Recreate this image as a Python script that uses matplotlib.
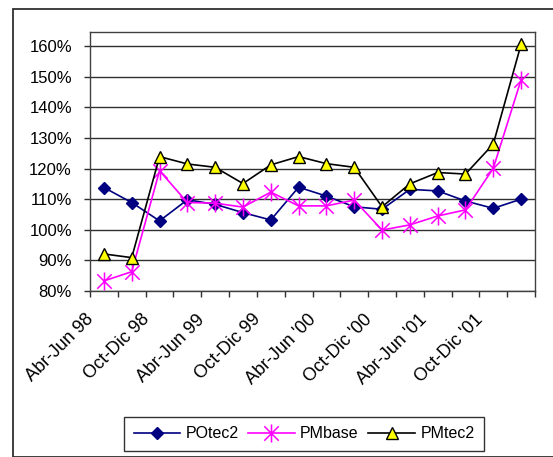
import matplotlib
matplotlib.use("Agg")
import matplotlib.pyplot as plt
import matplotlib.transforms as mtransforms
from matplotlib.path import Path
from matplotlib.patches import Rectangle

plt.rcParams['font.family'] = ['Liberation Sans', 'DejaVu Sans']

# Trimestres (solo se rotulan los alternos)
trimestres = ["Abr-Jun 98", "Jul-Sep 98", "Oct-Dic 98", "Ene-Mar 99",
              "Abr-Jun 99", "Jul-Sep 99", "Oct-Dic 99", "Ene-Mar '00",
              "Abr-Jun '00", "Jul-Sep '00", "Oct-Dic '00", "Ene-Mar '01",
              "Abr-Jun '01", "Jul-Sep '01", "Oct-Dic '01", "Ene-Mar '02"]
rotulos = trimestres[::2]

# Series en porcentaje
potec2 = [113.8, 108.9, 102.9, 109.8, 108.3, 105.6, 103.2, 113.9,
          111.0, 107.5, 106.7, 113.2, 112.7, 109.4, 107.0, 110.0]
pmbase = [83.3, 86.3, 119.3, 108.9, 108.7, 107.4, 112.3, 107.8,
          107.8, 109.7, 99.9, 101.6, 104.5, 106.5, 120.1, 149.0]
pmtec2 = [92.1, 90.9, 123.9, 121.5, 120.4, 115.1, 121.2, 123.9,
          121.6, 120.4, 107.5, 115.0, 118.7, 118.2, 128.0, 160.6]

ticks_y = [80, 90, 100, 110, 120, 130, 140, 150, 160]

# Asterisco tipo Excel: vertical + dos diagonales
estrella = Path([(0, -1), (0, 1), (-0.8, -0.8), (0.8, 0.8), (-0.8, 0.8), (0.8, -0.8)],
                [Path.MOVETO, Path.LINETO, Path.MOVETO, Path.LINETO, Path.MOVETO, Path.LINETO])

W, H = 553, 457
fig = plt.figure(figsize=(W / 100, H / 100), dpi=100)

# marco exterior del grafico
fig.patches.append(Rectangle((13 / W, 0), 1, 1 - 9 / H, transform=fig.transFigure,
                             fill=False, edgecolor='#303030', linewidth=1.3))

ax = fig.add_axes([90 / W, 1 - 291 / H, 445 / W, 259 / H])
x = list(range(1, len(trimestres) + 1))

ax.plot(x, potec2, color='#000080', linewidth=1.2, marker='D', markersize=6.5,
        markerfacecolor='#000080', markeredgecolor='#000080', label='POtec2', zorder=3)
ax.plot(x, pmbase, color='#FF00FF', linewidth=1.2, marker=estrella, markersize=13,
        markeredgewidth=1.1, markeredgecolor='#FF00FF', label='PMbase', zorder=4)
ax.plot(x, pmtec2, color='black', linewidth=1.2, marker='^', markersize=8.5,
        markerfacecolor='#FFFF00', markeredgecolor='black', markeredgewidth=1.0,
        label='PMtec2', zorder=5)

ax.set_xlim(0.5, len(trimestres) + 0.5)
ax.set_ylim(80, 164.6)
ax.set_yticks(ticks_y)
ax.set_yticklabels([f"{v}%" for v in ticks_y], fontsize=12)
ax.yaxis.grid(True, color='#303030', linewidth=1.0)
ax.set_axisbelow(True)

ax.set_xticks([i + 0.5 for i in range(0, len(trimestres) + 1)])
ax.set_xticklabels([])
ax.tick_params(axis='x', direction='out', length=4, width=1, color='#303030')
ax.tick_params(axis='y', direction='out', length=4, width=1, color='#303030', pad=9)
for s in ax.spines.values():
    s.set_color('#404040')
    s.set_linewidth(1.0)

# rotulos del eje x, girados 45 grados
desplaz = mtransforms.ScaledTranslation(-19 / 100, -20 / 100, fig.dpi_scale_trans)
trans = mtransforms.blended_transform_factory(ax.transData, ax.transAxes) + desplaz
for i, r in enumerate(rotulos):
    ax.text(1 + 2 * i, 0, r, transform=trans, rotation=45, rotation_mode='anchor',
            ha='right', va='top', fontsize=13)

leg = fig.legend(loc='center', bbox_to_anchor=(304 / W, 1 - 434 / H), ncol=3,
                 fontsize=11.5, frameon=True, fancybox=False, handlelength=2.9,
                 handletextpad=0.35, columnspacing=0.6, borderpad=0.6)
leg.get_frame().set_edgecolor('black')
leg.get_frame().set_linewidth(1.0)

fig.savefig("out.png", dpi=100)
